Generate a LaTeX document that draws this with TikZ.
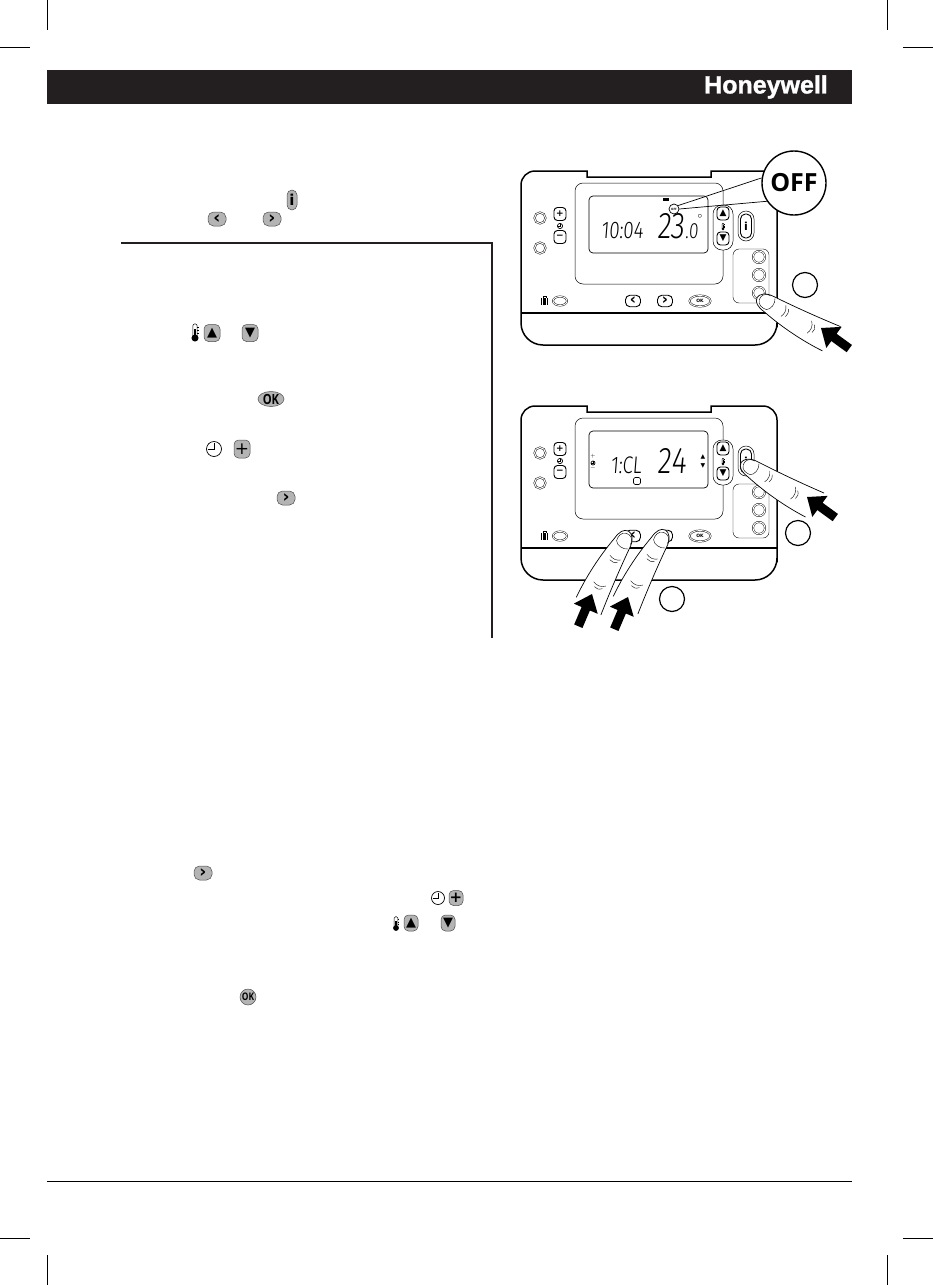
\documentclass[tikz,border=0pt]{standalone}
\usepackage{fontspec}
\usetikzlibrary{calc,positioning,shapes}
\newfontfamily\symfont{DejaVu Sans}
\newfontfamily\logofont[FakeBold=1.2]{Liberation Sans}
\newfontfamily\offfont{Open Sans}
\newfontfamily\okfont[FakeStretch=.8]{Open Sans}
\newfontfamily\lcdfont[FakeSlant=.08,FakeStretch=.78]{Fira Sans Light}

\definecolor{barblack}{HTML}{231F20}
\definecolor{btngray}{HTML}{B4B4B4}

\tikzset{
	crop/.style={line width=.8pt,black},
	ringbtn/.style={circle,draw,double,double distance=1pt,line width=.45pt,fill=white,minimum size=11pt,inner sep=0pt},
	ovalbtn/.style={ellipse,draw,double,double distance=.9pt,line width=.45pt,fill=white,minimum width=14pt,minimum height=9pt,inner sep=0pt},
	keybtn/.style={rectangle,rounded corners=3.5pt,draw,line width=.9pt,fill=white,minimum width=12pt,minimum height=13pt,inner sep=0pt,font=\symfont\bfseries\fontsize{9}{9}\selectfont},
	chevkey/.style={keybtn,minimum width=15pt,minimum height=11.5pt,rounded corners=4.5pt,font=\symfont\bfseries\fontsize{15}{15}\selectfont},
	graybtn/.style={rectangle,rounded corners=4.5pt,draw=black!70,line width=.5pt,fill=btngray,minimum width=16pt,minimum height=17pt,inner sep=0pt,font=\symfont\bfseries\fontsize{13}{13}\selectfont},
	graychev/.style={graybtn,minimum width=18pt,minimum height=14pt,rounded corners=5.5pt,font=\symfont\bfseries\fontsize{17}{17}\selectfont},
	lcdnum/.style={inner sep=0pt,text=black,font=\lcdfont\fontsize{#1}{#1}\selectfont},
	stepmark/.style={circle,draw,line width=1.2pt,minimum size=25pt,inner sep=0pt},
}

% clock icon, centre and radius
\newcommand{\drawclock}[2]{
	\draw[line width=.7pt] (#1) circle (#2pt);
	\draw[line width=.6pt] ($(#1)+(0,-#2*.8)$) -- (#1) -- ($(#1)+(-#2*.8,0)$);
}
% thermometer icon, bottom bulb centre at given point
\newcommand{\drawtherm}[2]{
	\begin{scope}[shift={(#1)},scale=#2]
		\draw[line width=.5pt,fill=white] (-2,-1) -- (-2,-11) .. controls (-2,-13.5) and (2,-13.5) .. (2,-11) -- (2,-1) -- cycle;
		\fill[black] (-1,-8) rectangle (1,0);
		\fill[black] (0,0) circle (3.2);
		\foreach \t in {-4,-7,-10}
			\draw[line width=.4pt] (2,\t) -- (3.5,\t);
	\end{scope}
}
% a finger with the tip at the given point
\newcommand{\drawfinger}[2]{
	\begin{scope}[shift={(#1)},rotate=#2]
		\draw[line width=.7pt,fill=white] (86,-15) .. controls (60,-12) and (35,-10) .. (14,-9)
			.. controls (4,-9) and (-1,-4) .. (-1,0) .. controls (-1,5) and (4,8) .. (12,9)
			.. controls (35,14) and (60,16) .. (82,15);
		\draw[line width=.4pt] (10,-8) .. controls (3,-8) and (1,-3) .. (2,1) .. controls (3,6) and (9,7) .. (13,6)
			.. controls (17,4) and (18,-4) .. (15,-8);
		\draw[line width=.4pt] (28,-7) .. controls (31,-3) and (31,1) .. (29,5);
		\draw[line width=.4pt] (32,-5) .. controls (34,-2) and (34,0) .. (33,3);
		\draw[line width=.4pt] (58,-6) .. controls (62,-2) and (62,3) .. (60,7);
		\draw[line width=.4pt] (62,-4) .. controls (65,-1) and (65,1) .. (64,4);
	\end{scope}
}
% block arrow with its point at the given point
\newcommand{\drawpush}[2]{
	\begin{scope}[shift={(#1)},rotate=#2]
		\fill[black] (0,0) -- (16,-13) -- (16,-4.5) -- (35,-4.5) -- (35,4.5) -- (16,4.5) -- (16,13) -- cycle;
	\end{scope}
}
% the thermostat without its display digits
\newcommand{\drawbody}[1]{
	% housing
	\draw[line width=1.5pt] (521,313) [rounded corners=14pt] -- (521,171) [sharp corners] -- (587,171) -- (587,177)
		-- (711,177) -- (711,171) [rounded corners=14pt] -- (777,171) -- (777,313) [rounded corners=22pt] -- (777,345) -- (521,345) -- (521,313);
	\draw[line width=1.6pt] (521,313) -- (777,313);
	% display frame and lcd
	\draw[line width=.5pt,rounded corners=8pt] (575,183) rectangle (723,284);
	\draw[line width=.7pt,rounded corners=4pt] (589,196) rectangle (708,253);
	% left buttons
	\node[ringbtn] (#1ringa) at (540,218) {};
	\node[ringbtn] (#1ringb) at (540,248) {};
	\node[keybtn] (#1plus) at (560,214) {+};
	\node[keybtn] (#1minus) at (560,237) {\textminus};
	\drawclock{560,226}{2.6}
	% temperature keys
	\draw[line width=.5pt,rounded corners=9pt,fill=white] (713,205) rectangle (733,250);
	\node[keybtn] (#1up) at (723,213.5) {▲};
	\node[keybtn] (#1down) at (723,238.5) {▼};
	\drawtherm{723,229}{.45}
	% info key
	\draw[line width=.5pt,rounded corners=8pt,fill=white] (738,211) rectangle (754,241);
	\node[keybtn,rounded corners=5pt,minimum width=11pt,minimum height=24pt] (#1info) at (746,226) {\fontsize{11}{11}\selectfont i};
	% programme group
	\draw[line width=.4pt,rounded corners=6pt] (733,249) -- (769,249) -- (769,303) -- (733,303) -- cycle;
	\foreach \p/\y in {a/257,b/275,c/293}
		\node[ringbtn,minimum size=12pt] (#1prog\p) at (759,\y) {};
	% bottom row
	\fill[black] (541,298) rectangle (548,305);
	\draw[line width=.5pt] (543,298) -- (543,296) -- (546,296) -- (546,298);
	\draw[white,line width=.5pt] (542.5,298) -- (542.5,305) (546.5,298) -- (546.5,305);
	\node[ovalbtn] (#1hol) at (560,301) {};
	\node[chevkey] (#1left) at (633,301) {‹};
	\node[chevkey] (#1right) at (665,301) {›};
	\node[ovalbtn,minimum width=21pt,minimum height=11pt,font=\symfont\bfseries\fontsize{4.5}{4.5}\selectfont] (#1ok) at (700,301) {OK};
}

\begin{document}
\begin{tikzpicture}[x=1pt,y=-1pt]
\useasboundingbox (0,0) rectangle (933,1285);

% crop marks
\draw[crop] (47,0) -- (47,30);
\draw[crop] (0,47) -- (30,47);
\draw[crop] (887,0) -- (887,30);
\draw[crop] (903,47) -- (933,47);
\draw[crop] (47,1255) -- (47,1285);
\draw[crop] (0,1238) -- (30,1238);
\draw[crop] (887,1255) -- (887,1285);
\draw[crop] (903,1238) -- (933,1238);

% header bar and foot rule
\fill[barblack] (47,70) rectangle (852,104);
\node[inner sep=0pt,text=white,font=\logofont\bfseries\fontsize{25}{25}\selectfont] (logo) at (766,87) {Honeywell};
\draw[line width=.8pt] (47,1181) -- (852,1181);

% corner rule of the side box
\draw[line width=2pt,barblack] (121,243) -- (492,243) -- (492,638);

% inline icons of upper text
\node[graybtn,rounded corners=5pt,minimum width=10pt,minimum height=20pt,font=\symfont\bfseries\fontsize{15}{15}\selectfont] (iinfo) at (292,200) {i};
\node[graychev] (ileft) at (217,219) {‹};
\node[graychev] (iright) at (272,219) {›};
\drawtherm{195,338}{1.1}
\node[graybtn] (iup) at (212,333) {▲};
\node[graybtn] (idown) at (250,333) {▼};
\node[graybtn,ellipse,minimum width=26pt,minimum height=15pt,font=\okfont\bfseries\fontsize{14}{14}\selectfont] (iok) at (271,399) {OK};
\drawclock{214,449}{7.5}
\node[graybtn,minimum height=18pt,font=\symfont\fontsize{17}{17}\selectfont] (iplus) at (242,449) {+};
\node[graychev] (inext) at (286,498) {›};

% inline icons of lower text
\node[graychev] (jnext) at (203,873) {›};
\drawclock{438,898}{6.5}
\node[graybtn,minimum width=14pt,minimum height=15pt,font=\symfont\bfseries\fontsize{15}{15}\selectfont] (jplus) at (456,898) {+};
\drawtherm{396,928}{.9}
\node[graybtn,minimum width=14pt,minimum height=16pt] (jup) at (411,923) {▲};
\node[graybtn,minimum width=14pt,minimum height=16pt] (jdown) at (448,923) {▼};
\node[graybtn,circle,minimum size=16pt,font=\okfont\bfseries\fontsize{10.5}{10.5}\selectfont] (jok) at (248,997) {OK};

% upper thermostat
\drawbody{a}
\node[lcdnum=24,anchor=base] (atime) at (622,238) {10:04};
\node[lcdnum=37,anchor=base west] (atemp) at (657,238) {23};
\node[lcdnum=22,anchor=base west] (atenth) at (685,238) {.0};
\node[inner sep=0pt,font=\fontsize{9}{9}\selectfont] (adeg) at (700,216) {$\circ$};
\fill[black] (663,198) rectangle (669,201);
\node[circle,draw,line width=.7pt,minimum size=10pt,inner sep=0pt,fill=white,font=\offfont\bfseries\fontsize{3}{3}\selectfont] (offsmall) at (674,209) {OFF};
\node[circle,draw,line width=1.4pt,minimum size=64pt,inner sep=0pt,fill=white,font=\offfont\bfseries\fontsize{25}{25}\selectfont] (offbig) at (794,183) {OFF};
\draw[line width=.7pt] (offsmall.40) -- (offbig.171);
\draw[line width=.7pt] (offsmall.0) -- (offbig.214);
\node[stepmark] (astep) at (805,285) {};
\drawfinger{758,298}{-29}
\drawpush{821,328}{-36}

% lower thermostat
\begin{scope}[shift={(0,235)}]
	\drawbody{b}
\end{scope}
\node[lcdnum=24,anchor=base] (bcode) at (626,473) {1:CL};
\node[lcdnum=37,anchor=base] (bvalue) at (672,473) {24};
\node[inner sep=0pt,font=\symfont\fontsize{6}{6}\selectfont] (bvalup) at (703,457) {▲};
\node[inner sep=0pt,font=\symfont\fontsize{6}{6}\selectfont] (bvaldown) at (703,466) {▼};
\node[inner sep=0pt,font=\fontsize{5}{5}\selectfont] (bplus) at (593,456.5) {+};
\drawclock{593,463}{2}
\node[inner sep=0pt,font=\fontsize{5}{5}\selectfont] (bminus) at (593,469) {\textminus};
\draw[line width=.6pt,rounded corners=1.5pt] (633.5,477.5) rectangle (640.5,484.5);
\node[stepmark] (bstepa) at (798,533) {};
\node[stepmark] (bstepb) at (672,599) {};
\drawfinger{742,463}{-30}
\drawpush{807,497}{-36}
\drawfinger{628,532}{-118}
\drawfinger{665,531}{-118}
\drawpush{592,594}{-113}
\drawpush{628,597}{-113}

\end{tikzpicture}
\end{document}
